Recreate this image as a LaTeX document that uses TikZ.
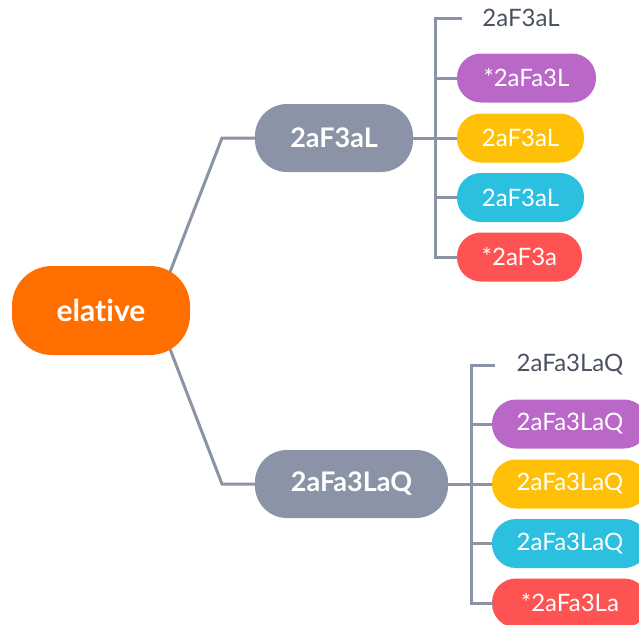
\documentclass[tikz,border=0pt]{standalone}
\usepackage{fontspec}
\setmainfont{Lato}[Ligatures=NoCommon]
\usetikzlibrary{calc}
\definecolor{cOrange}{HTML}{FF6F00}
\definecolor{cGray}{HTML}{8A94A6}
\definecolor{cPurple}{HTML}{BA68C8}
\definecolor{cYellow}{HTML}{FFC107}
\definecolor{cCyan}{HTML}{2BBFE0}
\definecolor{cRed}{HTML}{FF5252}
\definecolor{cText}{HTML}{4A5160}
\begin{document}
\begin{tikzpicture}[x=1pt,y=-1pt,
  conn/.style={draw=cGray,line width=3pt},
  rootbox/.style={fill=cOrange,text=white,rounded corners=40pt,minimum width=178pt,minimum height=89pt,inner sep=0pt,font=\fontsize{30}{34}\selectfont\bfseries},
  midbox/.style={fill=cGray,text=white,rounded corners=32pt,minimum height=68pt,inner sep=0pt,font=\fontsize{27}{31}\selectfont\bfseries},
  leafbox/.style={fill=#1,text=white,rounded corners=24pt,minimum height=49pt,inner sep=0pt,font=\fontsize{24}{28}\selectfont},
  plainleaf/.style={text=cText,inner sep=0pt,font=\fontsize{24}{28}\selectfont}]
\useasboundingbox (0,0) rectangle (639,624);
% root
\node[rootbox] (root) at (101,310.5) {elative};
% middle nodes
\node[midbox,minimum width=158pt] (m1) at (334,138) {2aF3aL};
\node[midbox,minimum width=193pt] (m2) at (351.5,484) {2aFa3LaQ};
% connectors root -> middle
\coordinate (r1) at (170,272);
\coordinate (r2) at (170,349);
\coordinate (k1) at (222,138);
\coordinate (k2) at (222,484);
\draw[conn,line join=miter] (r1) -- (k1) -- (m1.west);
\draw[conn,line join=miter] (r2) -- (k2) -- (m2.west);
% upper leaves
\node[plainleaf] (a0) at (521,18) {2aF3aL};
\node[leafbox=cPurple,minimum width=139pt] (a1) at (526.5,78) {*2aFa3L};
\node[leafbox=cYellow,minimum width=127pt] (a2) at (520.5,138) {2aF3aL};
\node[leafbox=cCyan,minimum width=127pt] (a3) at (520.5,197.5) {2aF3aL};
\node[leafbox=cRed,minimum width=125pt] (a4) at (519.5,257) {*2aF3a};
\coordinate (va) at (435,138);
\coordinate (ta) at (460,18);
\draw[conn] (m1.east) -- (va);
\draw[conn,line cap=rect] (ta) -| (va |- a4.west) -- (a4.west);
\draw[conn] (va |- a1.west) -- (a1.west);
\draw[conn] (va |- a2.west) -- (a2.west);
\draw[conn] (va |- a3.west) -- (a3.west);
% lower leaves
\node[plainleaf] (b0) at (570,365) {2aFa3LaQ};
\node[leafbox=cPurple,minimum width=156pt] (b1) at (570,424) {2aFa3LaQ};
\node[leafbox=cYellow,minimum width=156pt] (b2) at (570,484) {2aFa3LaQ};
\node[leafbox=cCyan,minimum width=156pt] (b3) at (570,543.5) {2aFa3LaQ};
\node[leafbox=cRed,minimum width=156pt] (b4) at (570,603) {*2aFa3La};
\coordinate (vb) at (471,484);
\coordinate (tb) at (493,365);
\draw[conn] (m2.east) -- (vb);
\draw[conn,line cap=rect] (tb) -| (vb |- b4.west) -- (b4.west);
\draw[conn] (vb |- b1.west) -- (b1.west);
\draw[conn] (vb |- b2.west) -- (b2.west);
\draw[conn] (vb |- b3.west) -- (b3.west);
\end{tikzpicture}
\end{document}
